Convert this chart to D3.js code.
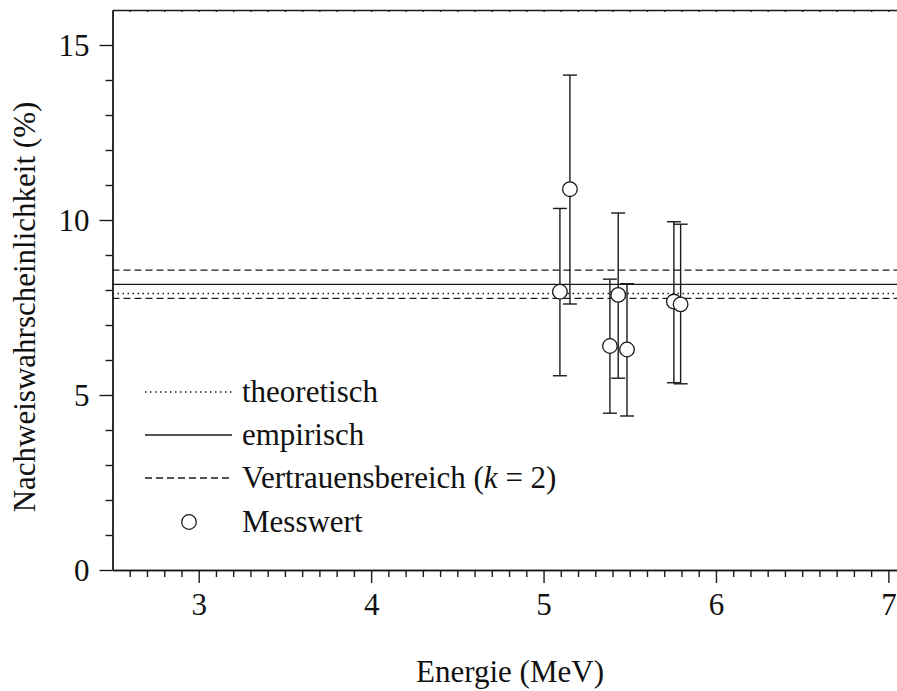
<!DOCTYPE html>
<html><head><meta charset="utf-8">
<script src="https://cdn.jsdelivr.net/npm/d3@7"></script>
<style>body{margin:0;background:#fff}svg{display:block}svg text{font-family:'Liberation Serif','Times New Roman','DejaVu Serif',serif !important;fill:#111}</style>
</head><body><svg id="c" width="897" height="691"></svg>
<script>
const energy = [5.095, 5.153, 5.385, 5.433, 5.484, 5.756, 5.795];
const value  = [7.95, 10.88, 6.40, 7.86, 6.30, 7.67, 7.59];
const errLow = [5.55, 7.60, 4.48, 5.48, 4.40, 5.35, 5.32];
const errHigh= [10.33, 14.14, 8.31, 10.20, 8.18, 9.95, 9.88];
const theoretical = 7.90;
const empirical = 8.16;
const confLow = 7.76;
const confHigh = 8.57;
const xTicks = [3, 4, 5, 6, 7];
const yTicks = [0, 5, 10, 15];
const legendLabels = ["theoretisch", "empirisch", "Vertrauensbereich", "Messwert"];

const FONT = "'Liberation Serif', serif";
const FS = 31;
const svg = d3.select("#c");
const x = d3.scaleLinear().domain([2.5, 7.05]).range([112.5, 897]);
const y = d3.scaleLinear().domain([0, 16]).range([570, 10]);
const ink = "#1a1a1a";

const xMinor = d3.range(26, 71).map(d => d / 10).filter(d => !xTicks.includes(d));
const yMinor = d3.range(0, 16).filter(d => !yTicks.includes(d));

const gx = svg.append("g").attr("transform", `translate(0,${y(0)})`);
gx.call(d3.axisBottom(x).tickValues(xTicks).tickSize(13).tickSizeOuter(0).tickFormat(d3.format("d")));
gx.append("g").call(d3.axisBottom(x).tickValues(xMinor).tickSize(7).tickSizeOuter(0).tickFormat(""));
gx.selectAll(".tick text").attr("y", 45).attr("dy", 0);

const gy = svg.append("g").attr("transform", `translate(${x(2.5)},0)`);
gy.call(d3.axisLeft(y).tickValues(yTicks).tickSize(13).tickSizeOuter(0).tickFormat(d3.format("d")));
gy.append("g").call(d3.axisLeft(y).tickValues(yMinor).tickSize(7).tickSizeOuter(0).tickFormat(""));
gy.selectAll(".tick text").attr("x", -23).attr("dy", "0.33em");

const gt = svg.append("g").attr("transform", `translate(0,${y(16)})`);
gt.call(d3.axisBottom(x).tickValues(d3.range(26, 71).map(d => d / 10)).tickSize(2).tickSizeOuter(0).tickFormat(""));

svg.selectAll("g").attr("font-family", FONT).attr("font-size", FS);
svg.selectAll(".domain, .tick line").attr("stroke", ink).attr("stroke-width", 1.4);
svg.selectAll(".tick text").attr("fill", "#111").attr("font-family", FONT).attr("font-size", FS);

function hline(v, dash) {
  svg.append("line").attr("x1", x(2.5)).attr("x2", x(7.05)).attr("y1", y(v)).attr("y2", y(v))
    .attr("stroke", ink).attr("stroke-width", 1.3).attr("stroke-dasharray", dash);
}
hline(confHigh, "7,4");
hline(confLow, "7,4");
hline(empirical, null);
hline(theoretical, "1.5,3.5");

const data = energy.map((e, i) => ({e, v: value[i], lo: errLow[i], hi: errHigh[i]}));
const eb = svg.append("g").attr("stroke", ink).attr("stroke-width", 1.4);
data.forEach(d => {
  eb.append("line").attr("x1", x(d.e)).attr("x2", x(d.e)).attr("y1", y(d.lo)).attr("y2", y(d.hi));
  eb.append("line").attr("x1", x(d.e) - 7).attr("x2", x(d.e) + 7).attr("y1", y(d.lo)).attr("y2", y(d.lo));
  eb.append("line").attr("x1", x(d.e) - 7).attr("x2", x(d.e) + 7).attr("y1", y(d.hi)).attr("y2", y(d.hi));
});
svg.append("g").selectAll("circle").data(data).join("circle")
  .attr("cx", d => x(d.e)).attr("cy", d => y(d.v)).attr("r", 7.3)
  .attr("fill", "#fff").attr("stroke", ink).attr("stroke-width", 1.3);

const lg = svg.append("g");
const rowY = [392, 435, 478, 522];
const dashes = ["1.5,3.5", null, "7,4"];
[0, 1, 2].forEach(i => {
  lg.append("line").attr("x1", 145).attr("x2", 232).attr("y1", rowY[i]).attr("y2", rowY[i])
    .attr("stroke", ink).attr("stroke-width", 1.3).attr("stroke-dasharray", dashes[i]);
});
lg.append("circle").attr("cx", 189).attr("cy", rowY[3]).attr("r", 7.3)
  .attr("fill", "#fff").attr("stroke", ink).attr("stroke-width", 1.3);
legendLabels.forEach((t, i) => {
  const tx = lg.append("text").attr("x", 242).attr("y", rowY[i] + 10)
    .attr("font-size", FS).attr("font-family", FONT);
  tx.append("tspan").text(t);
  if (i === 2) {
    tx.append("tspan").text(" (");
    tx.append("tspan").attr("font-style", "italic").text("k");
    tx.append("tspan").text(" = 2)");
  }
});

svg.append("text").attr("x", 510).attr("y", 682).attr("text-anchor", "middle")
  .attr("font-size", FS).attr("font-family", FONT).text("Energie (MeV)");
svg.append("text").attr("transform", "translate(35,307) rotate(-90)").attr("text-anchor", "middle")
  .attr("font-size", FS).attr("font-family", FONT).text("Nachweiswahrscheinlichkeit (%)");
</script></body></html>
